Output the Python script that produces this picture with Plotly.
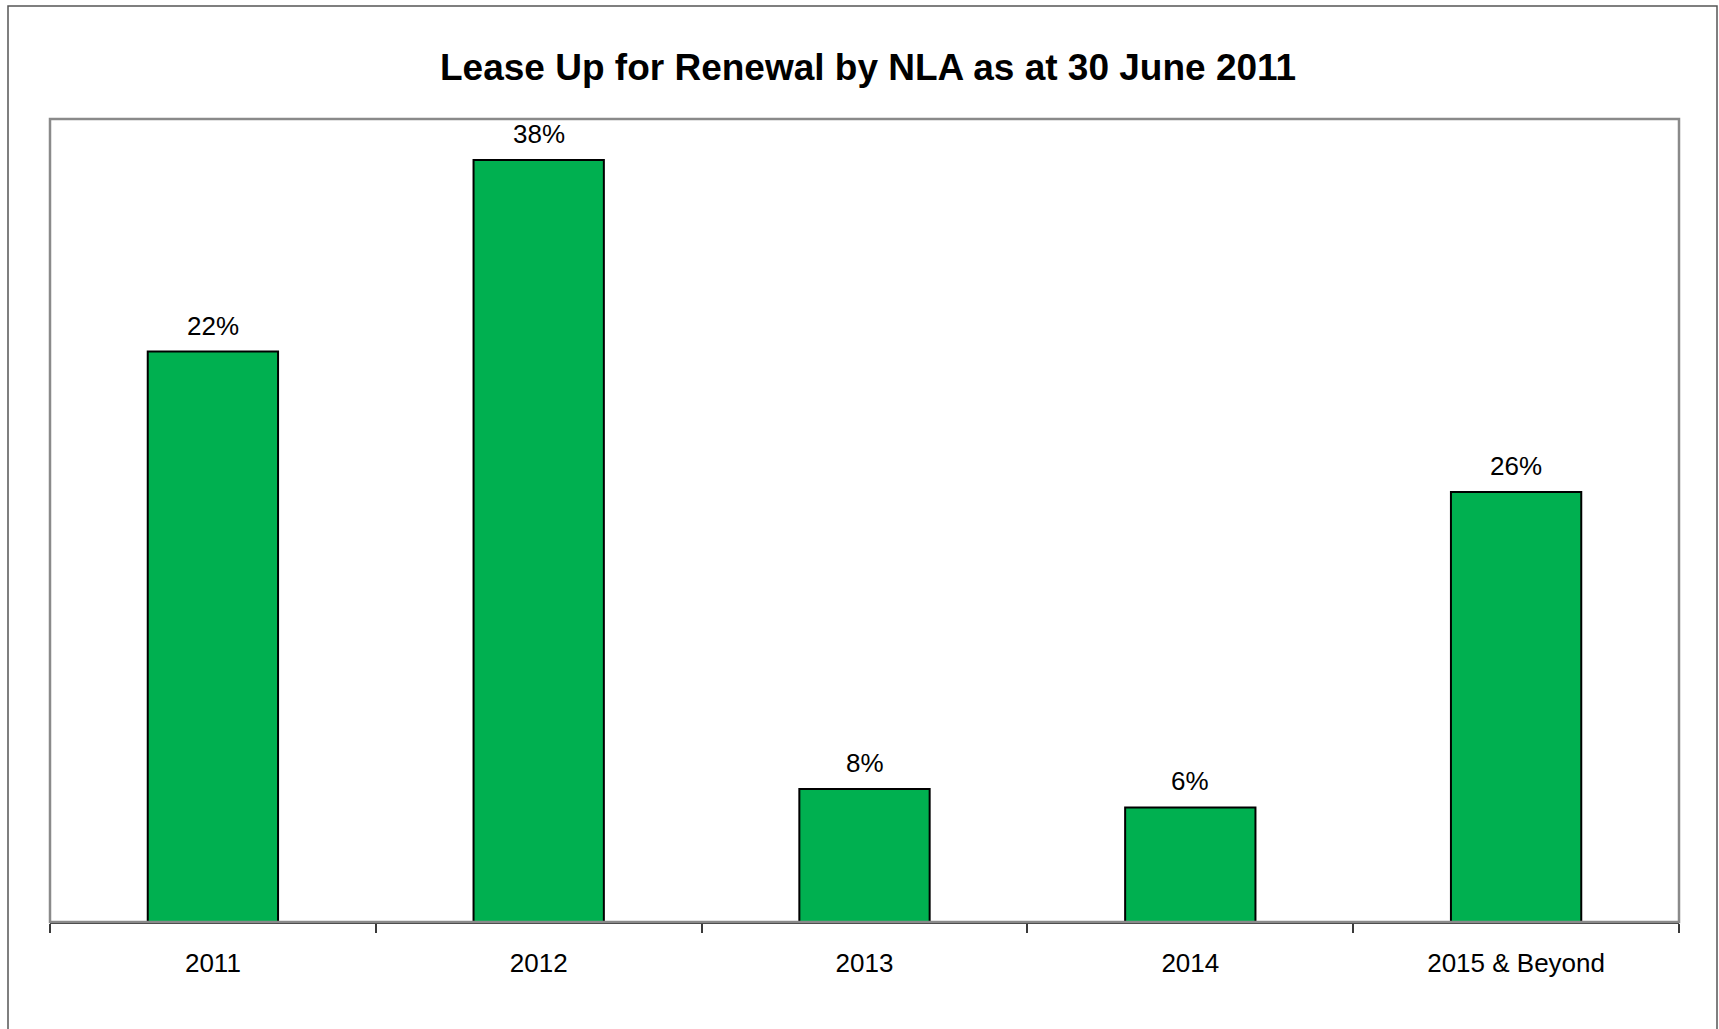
import plotly.graph_objects as go

categories = ["2011", "2012", "2013", "2014", "2015 & Beyond"]
bar_values = [34.1, 45.55, 7.95, 6.85, 25.7]
bar_labels = ["22%", "38%", "8%", "6%", "26%"]
title_text = "Lease Up for Renewal by NLA as at 30 June 2011"

W, H = 1719, 1029
L, R, T, B = 50, 40, 119, 107

fig = go.Figure()
fig.add_trace(go.Bar(
    x=categories, y=bar_values,
    marker=dict(color="#00B050", line=dict(color="#000000", width=2)),
    width=0.4, hoverinfo="skip",
))

for i, (v, t) in enumerate(zip(bar_values, bar_labels)):
    fig.add_annotation(x=i, y=v, text=t, showarrow=False, yanchor="bottom",
                       yshift=9, font=dict(family="Liberation Sans, Arial", size=26, color="#000000"))

pw = W - L - R
ph = H - T - B
base = H - B
# plot area border
fig.add_shape(type="rect", xref="paper", yref="paper", x0=0, x1=1, y0=0, y1=1,
              line=dict(color="#8a8a8a", width=2.5), layer="above")
# outer chart border
fig.add_shape(type="rect", xref="paper", yref="paper",
              x0=(8 - L) / pw, x1=(1717 - L) / pw,
              y0=(base - (H + 10)) / ph, y1=(base - 6) / ph,
              line=dict(color="#555555", width=1.5), layer="above")

fig.update_layout(
    width=W, height=H,
    margin=dict(l=L, r=R, t=T, b=B),
    paper_bgcolor="white", plot_bgcolor="white",
    showlegend=False,
    title=dict(text=f"<b>{title_text}</b>", x=0.505, xanchor="center",
               y=1 - 67 / H, yanchor="middle", yref="container",
               font=dict(family="Liberation Sans, Arial", size=37, color="#000000")),
    font=dict(family="Liberation Sans, Arial", size=26, color="#000000"),
    xaxis=dict(type="category", range=[-0.5, len(categories) - 0.5], autorange=False,
               showline=True, linecolor="#3a3a3a", linewidth=2,
               ticks="outside", tickson="boundaries", ticklen=9, tickcolor="#3a3a3a", tickwidth=1.5,
               tickfont=dict(size=26), showgrid=False, ticklabelstandoff=17, tickangle=0),
    yaxis=dict(range=[0, 48], visible=False, showgrid=False, zeroline=False),
    bargap=0.6,
)

fig.write_html("out.html")
